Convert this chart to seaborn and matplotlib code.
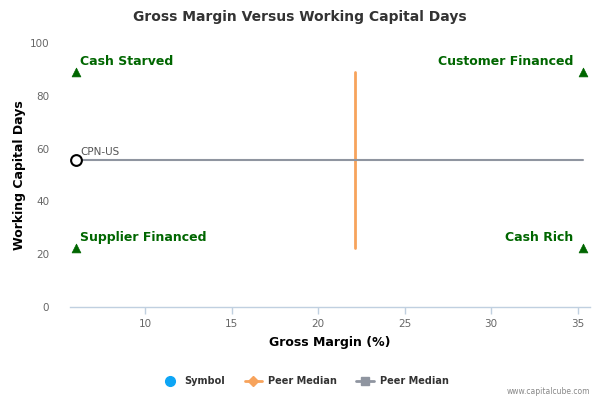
import numpy as np
import pandas as pd
import matplotlib
matplotlib.use("Agg")
import matplotlib.pyplot as plt
from matplotlib.lines import Line2D
import seaborn as sns

### DATA ###
corner_x = [6.0, 35.3, 6.0, 35.3]
corner_y = [89.0, 89.0, 22.3, 22.3]
corner_labels = ["Cash Starved", "Customer Financed", "Supplier Financed", "Cash Rich"]
symbol_name = ["CPN-US"]
symbol_x = [6.0]
symbol_y = [55.5]
peer_median_x = 22.1
peer_median_y = 55.5
x_ticks = [10, 15, 20, 25, 30, 35]
y_ticks = [0, 20, 40, 60, 80, 100]

sns.set_theme(style="white")
plt.rcParams['font.family'] = ['DejaVu Sans']

fig = plt.figure(figsize=(6, 4), dpi=100)
ax = fig.add_axes([0.117, 0.2325, 0.866, 0.66])

# PEER MEDIAN LINES
ax.plot([peer_median_x, peer_median_x], [min(corner_y), max(corner_y)], color='#F7A35C', linewidth=2, zorder=2)
ax.plot([min(corner_x), max(corner_x)], [peer_median_y, peer_median_y], color='#8F95A0', linewidth=1.5, zorder=2)

# CORNER TRIANGLES
corner_df = pd.DataFrame({"x": corner_x, "y": corner_y, "label": corner_labels})
sns.scatterplot(data=corner_df, x="x", y="y", marker='^', s=40, color='#006600', edgecolor='#006600', ax=ax, zorder=3, legend=False)
for i, row in corner_df.iterrows():
    ha = 'left' if row.x < 20 else 'right'
    dx = 0.25 if ha == 'left' else -0.55
    ax.text(row.x + dx, row.y + 1.5, row.label, ha=ha, va='bottom', color='#006600', fontsize=9, fontweight='bold')

# SYMBOL
sym_df = pd.DataFrame({"x": symbol_x, "y": symbol_y})
sns.scatterplot(data=sym_df, x="x", y="y", marker='o', s=60, facecolor='white', edgecolor='black', linewidth=1.5, ax=ax, zorder=4, legend=False)
ax.text(symbol_x[0] + 0.25, symbol_y[0] + 1.5, symbol_name[0], ha='left', va='bottom', color='#555555', fontsize=7.5)

# AXES
ax.set_xlim(5.66, 35.7)
ax.set_ylim(0, 100)
ax.set_xticks(x_ticks)
ax.set_yticks(y_ticks)
ax.tick_params(axis='x', colors='#666666', labelsize=7.5, length=5, width=1, direction='out', color='#C0D0E0', bottom=True)
ax.tick_params(axis='y', colors='#666666', labelsize=7.5, length=0, pad=15)
for s in ['top', 'right', 'left']:
    ax.spines[s].set_visible(False)
ax.spines['bottom'].set_color('#C0D0E0')
ax.spines['bottom'].set_linewidth(1)
ax.set_xlabel('Gross Margin (%)', fontsize=9, fontweight='bold', color='black', labelpad=5)
ax.set_ylabel('Working Capital Days', fontsize=9, fontweight='bold', color='black', labelpad=3)
fig.suptitle('Gross Margin Versus Working Capital Days', x=0.5, y=0.975, fontsize=10, fontweight='bold', color='#333333')

# LEGEND
handles = [
    Line2D([], [], marker='o', linestyle='none', markersize=7, color='#0DA5F5'),
    Line2D([], [], marker='D', linestyle='-', markersize=5, color='#F7A35C', linewidth=2),
    Line2D([], [], marker='s', linestyle='-', markersize=6, color='#8F95A0', linewidth=2),
]
fig.legend(handles, ['Symbol', 'Peer Median', 'Peer Median'], loc='center', bbox_to_anchor=(0.508, 0.047), ncol=3, frameon=False,
           prop={'size': 7, 'weight': 'bold'}, labelcolor='#333333', handlelength=1.8, columnspacing=2.0, handletextpad=0.6)
fig.text(0.983, 0.01, 'www.capitalcube.com', ha='right', va='bottom', fontsize=5.5, color='#888888')

fig.savefig('out.png', dpi=100)
